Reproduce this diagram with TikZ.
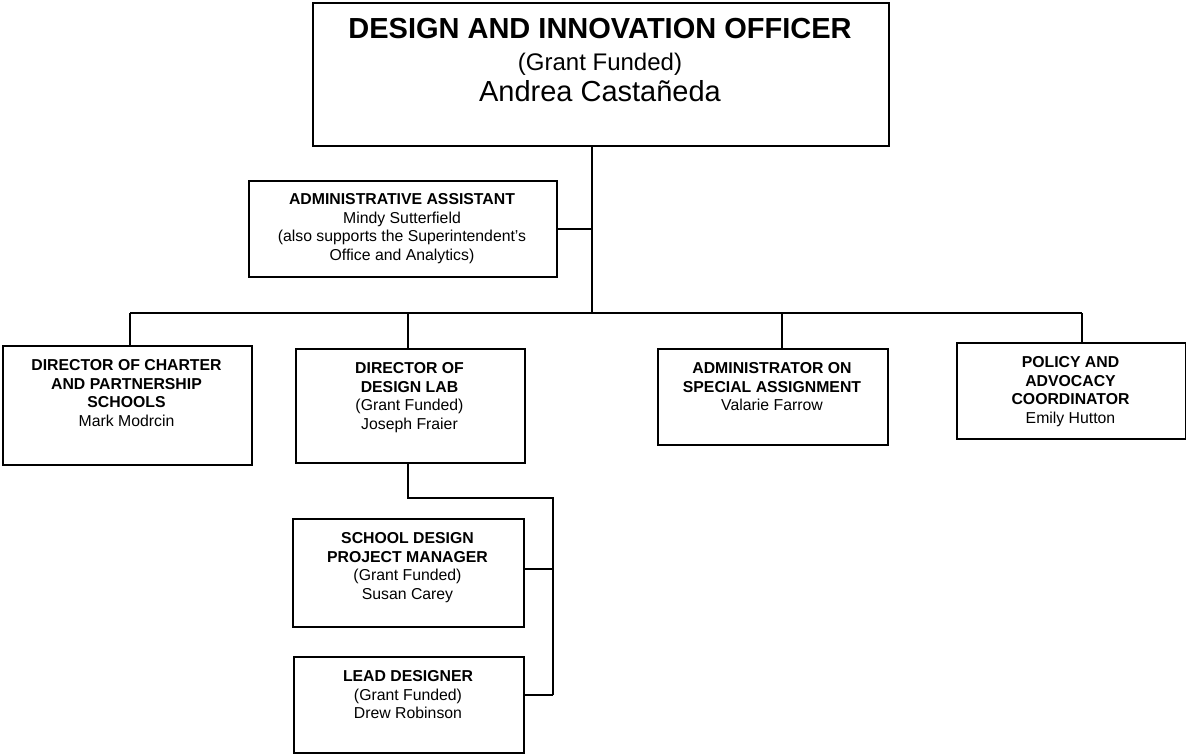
\documentclass[tikz,border=0pt]{standalone}
\usepackage{fontspec}
\setmainfont{Liberation Sans}
\begin{document}
\begin{tikzpicture}[x=1pt,y=-1pt,
  box/.style={draw, line width=1.8pt, inner sep=0pt, anchor=north west},
  txt/.style={align=center, anchor=north, inner sep=0pt, font=\fontsize{15.8}{18.6}\selectfont},
  ln/.style={line width=1.8pt},
  big/.style={anchor=base, inner sep=0pt}]
\useasboundingbox (0,0) rectangle (1186,753);
% boxes
\node[box, minimum width=576pt, minimum height=143pt] (top) at (312,2) {};
\node[box, minimum width=308pt, minimum height=96pt] (admin) at (248,180) {};
\node[box, minimum width=249pt, minimum height=119pt] (charter) at (2,345) {};
\node[box, minimum width=229pt, minimum height=114pt] (lab) at (295,348) {};
\node[box, minimum width=230pt, minimum height=96pt] (asa) at (657,348) {};
\node[box, minimum width=229pt, minimum height=96pt] (policy) at (956,342) {};
\node[box, minimum width=231pt, minimum height=108pt] (school) at (292,518) {};
\node[box, minimum width=230pt, minimum height=96pt] (lead) at (293,656) {};
% top box text
\node[big, font=\fontsize{29}{33}\selectfont\bfseries] (t1) at (600,38.4) {DESIGN AND INNOVATION OFFICER};
\node[big, font=\fontsize{24}{28}\selectfont] (t2) at (600,70.6) {(Grant Funded)};
\node[big, font=\fontsize{29}{33}\selectfont] (t3) at (600,101.4) {Andrea Castañeda};
% texts
\node[txt] (admintxt) at (402,193.3) {\textbf{ADMINISTRATIVE ASSISTANT}\\Mindy Sutterfield\\(also supports the Superintendent’s\\Office and Analytics)};
\node[txt] (chartertxt) at (126.5,359.3) {\textbf{DIRECTOR OF CHARTER}\\\textbf{AND PARTNERSHIP}\\\textbf{SCHOOLS}\\Mark Modrcin};
\node[txt] (labtxt) at (409.5,362.3) {\textbf{DIRECTOR OF}\\\textbf{DESIGN LAB}\\(Grant Funded)\\Joseph Fraier};
\node[txt] (asatxt) at (772,362.3) {\textbf{ADMINISTRATOR ON}\\\textbf{SPECIAL ASSIGNMENT}\\Valarie Farrow};
\node[txt] (policytxt) at (1070.5,356.3) {\textbf{POLICY AND}\\\textbf{ADVOCACY}\\\textbf{COORDINATOR}\\Emily Hutton};
\node[txt] (schooltxt) at (407.5,532.3) {\textbf{SCHOOL DESIGN}\\\textbf{PROJECT MANAGER}\\(Grant Funded)\\Susan Carey};
\node[txt] (leadtxt) at (408,670.3) {\textbf{LEAD DESIGNER}\\(Grant Funded)\\Drew Robinson};
% connector points
\coordinate (j1) at (592,313);
\coordinate (b1) at (130,313);
\coordinate (b2) at (408,313);
\coordinate (b3) at (782,313);
\coordinate (b4) at (1082,313);
\coordinate (l1) at (408,498);
\coordinate (l2) at (553,498);
\coordinate (l3) at (553,569);
\coordinate (l4) at (553,695);
% connectors
\draw[ln] (top.south -| j1) -- (j1);
\draw[ln] (admin.east) -- (admin.east -| j1);
\draw[ln] (b1) -- (b4);
\draw[ln] (b1) -- (b1 |- charter.north);
\draw[ln] (b2) -- (b2 |- lab.north);
\draw[ln] (b3) -- (b3 |- asa.north);
\draw[ln] (b4) -- (b4 |- policy.north);
\draw[ln] (lab.south -| l1) -- (l1) -- (l2) -- (l4);
\draw[ln] (l3) -- (l3 -| school.east);
\draw[ln] (l4) -- (l4 -| lead.east);
\end{tikzpicture}
\end{document}
